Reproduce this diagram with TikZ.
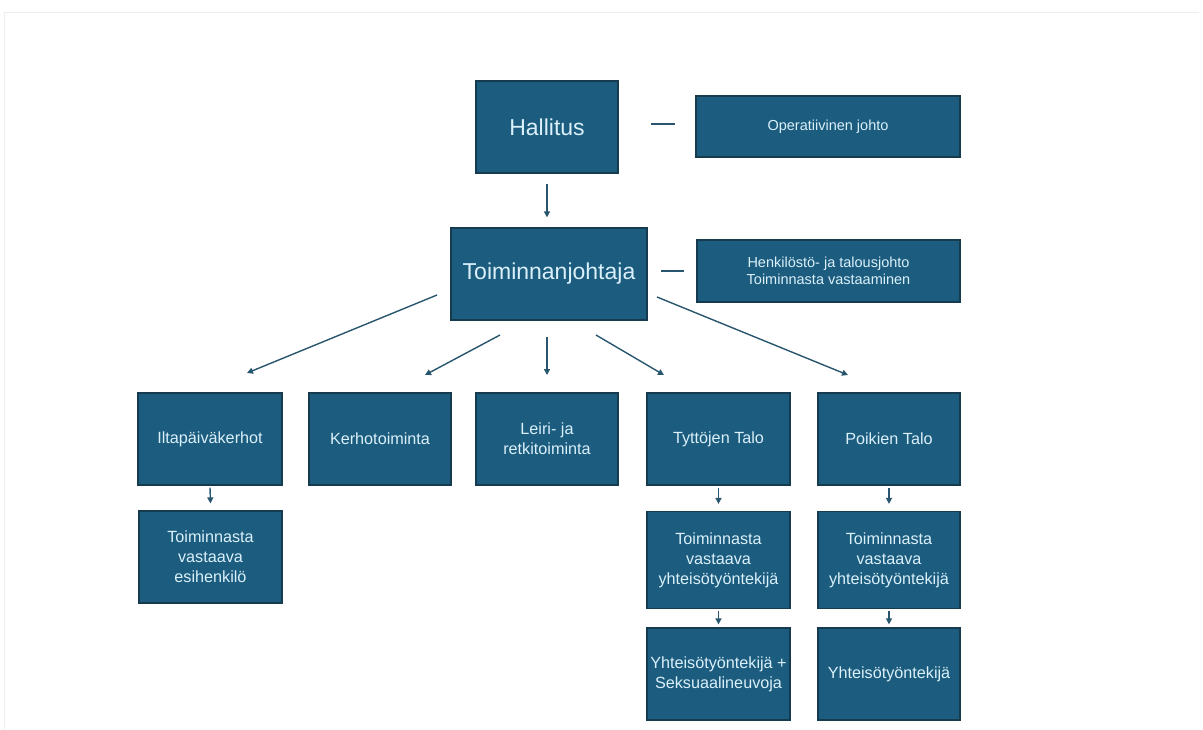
\documentclass[tikz,border=0pt]{standalone}
\usepackage{fontspec}
\setmainfont{Liberation Sans}
\usetikzlibrary{arrows.meta}
\definecolor{boxfill}{RGB}{28,92,126}
\definecolor{boxborder}{RGB}{22,58,78}
\definecolor{boxtext}{RGB}{218,240,250}
\definecolor{linecol}{RGB}{40,86,110}
\definecolor{framecol}{RGB}{238,238,238}
\tikzset{
  orgbox/.style={draw=boxborder, line width=1.2pt, fill=boxfill, text=boxtext,
    align=center, inner sep=0pt, font=\fontsize{16.2}{20}\selectfont},
  bigbox/.style={orgbox, font=\fontsize{23}{26}\selectfont},
  sidebox/.style={orgbox, font=\fontsize{14.5}{17.5}\selectfont},
  conn/.style={draw=linecol, line width=1.4pt, -{Triangle[length=6pt,width=6pt]}},
  plainline/.style={draw=linecol, line width=1.4pt},
}
\begin{document}
\begin{tikzpicture}[x=1pt,y=-1pt]
\useasboundingbox (0,0) rectangle (1203,729);
\draw[framecol, line width=1pt] (4,12) -- (1199,12);
\draw[framecol, line width=1pt] (4,12) -- (4,729);

% top level
\node[bigbox, minimum width=142pt, minimum height=92pt] (hall) at (547,127) {Hallitus};
\node[sidebox, minimum width=264pt, minimum height=61pt] (oper) at (828,126.5) {Operatiivinen johto};
\node[bigbox, minimum width=196pt, minimum height=92pt] (toim) at (549,274) {Toiminnanjohtaja};
\node[sidebox, minimum width=263pt, minimum height=62pt] (henk) at (828.5,271) {Henkilöstö- ja talousjohto\\Toiminnasta vastaaminen};

% level 3
\node[orgbox, minimum width=144pt, minimum height=92pt] (ilta) at (210,439) {Iltapäiväkerhot};
\node[orgbox, minimum width=142pt, minimum height=92pt] (kerho) at (380,439) {Kerhotoiminta};
\node[orgbox, minimum width=142pt, minimum height=92pt] (leiri) at (547,439) {Leiri- ja\\retkitoiminta};
\node[orgbox, minimum width=143pt, minimum height=92pt] (tytto) at (718.5,439) {Tyttöjen Talo};
\node[orgbox, minimum width=142pt, minimum height=92pt] (poika) at (889,439) {Poikien Talo};

% level 4
\node[orgbox, minimum width=143pt, minimum height=92pt] (esih) at (210.5,557) {Toiminnasta\\vastaava\\esihenkilö};
\node[orgbox, minimum width=143pt, minimum height=97pt] (tyv) at (718.5,560) {Toiminnasta\\vastaava\\yhteisötyöntekijä};
\node[orgbox, minimum width=142pt, minimum height=97pt] (pyv) at (889,560) {Toiminnasta\\vastaava\\yhteisötyöntekijä};

% level 5
\node[orgbox, minimum width=143pt, minimum height=92pt] (tyy) at (718.5,674) {Yhteisötyöntekijä +\\Seksuaalineuvoja};
\node[orgbox, minimum width=142pt, minimum height=92pt] (pyy) at (889,674) {Yhteisötyöntekijä};

% side dashes
\coordinate (d1a) at (651,124); \coordinate (d1b) at (675,124);
\draw[plainline] (d1a) -- (d1b);
\coordinate (d2a) at (661,271); \coordinate (d2b) at (684,271);
\draw[plainline] (d2a) -- (d2b);

% arrows
\draw[conn] ([yshift=-10pt]hall.south) -- ([yshift=10pt]hall.south |- toim.north);
\coordinate (s1) at (437,295); \coordinate (e1) at (247,373);
\draw[conn] (s1) -- (e1);
\coordinate (s2) at (500,335); \coordinate (e2) at (425,375);
\draw[conn] (s2) -- (e2);
\coordinate (s3) at (547,337); \coordinate (e3) at (547,375);
\draw[conn] (s3) -- (e3);
\coordinate (s4) at (596,335); \coordinate (e4) at (664,375);
\draw[conn] (s4) -- (e4);
\coordinate (s5) at (657,297); \coordinate (e5) at (848,375);
\draw[conn] (s5) -- (e5);

\draw[conn] ([yshift=-2pt]ilta.south) -- ([yshift=7pt]esih.north);
\draw[conn] ([yshift=-2pt]tytto.south) -- ([yshift=7pt]tyv.north);
\draw[conn] ([yshift=-2pt]poika.south) -- ([yshift=7pt]pyv.north);
\draw[conn] ([yshift=-2pt]tyv.south) -- ([yshift=3pt]tyy.north);
\draw[conn] ([yshift=-2pt]pyv.south) -- ([yshift=3pt]pyy.north);
\end{tikzpicture}
\end{document}
